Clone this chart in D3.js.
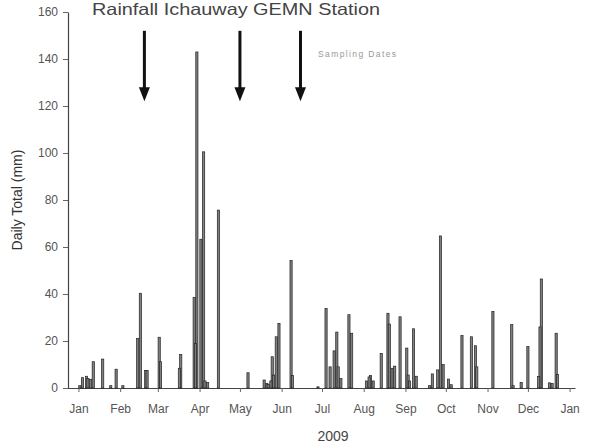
<!DOCTYPE html>
<html>
<head>
<meta charset="utf-8">
<script src="https://cdn.jsdelivr.net/npm/d3@7"></script>
<style>
  html, body { margin: 0; padding: 0; background: #fff; }
  svg { display: block; }
  text { font-family: "Liberation Sans", Arial, sans-serif; }
</style>
</head>
<body>
<svg id="chart" width="595" height="445"></svg>
<script>
// ---- data ----
const rainDates = [
  "2009-01-02","2009-01-04","2009-01-07","2009-01-08","2009-01-10","2009-01-12","2009-01-19","2009-01-25","2009-01-29",
  "2009-02-03","2009-02-14","2009-02-16","2009-02-20","2009-02-21",
  "2009-03-02","2009-03-03","2009-03-17","2009-03-18","2009-03-28","2009-03-29","2009-03-30",
  "2009-04-02","2009-04-04","2009-04-05","2009-04-07","2009-04-15",
  "2009-05-07","2009-05-19","2009-05-21","2009-05-22","2009-05-24","2009-05-25","2009-05-26","2009-05-28","2009-05-30",
  "2009-06-08","2009-06-09","2009-06-28",
  "2009-07-04","2009-07-07","2009-07-10","2009-07-12","2009-07-13","2009-07-15","2009-07-21","2009-07-23",
  "2009-08-03","2009-08-05","2009-08-06","2009-08-08","2009-08-14","2009-08-19","2009-08-20","2009-08-22","2009-08-24","2009-08-28",
  "2009-09-02","2009-09-03","2009-09-04","2009-09-07","2009-09-09","2009-09-19","2009-09-21","2009-09-25","2009-09-27","2009-09-29",
  "2009-10-03","2009-10-05","2009-10-13","2009-10-20","2009-10-23","2009-10-24",
  "2009-11-05","2009-11-19","2009-11-20","2009-11-26",
  "2009-12-01","2009-12-09","2009-12-10","2009-12-11","2009-12-17","2009-12-19","2009-12-22","2009-12-23"
];
const rainMm = [
  1,4.4,5,4,3.7,11.2,12.3,1,8,
  1,21,40.3,7.5,7.5,
  21.6,11.2,8.4,14.2,38.5,19,143,
  63.3,100.5,3,2.3,75.7,
  6.5,3.4,2,1.5,3,13.3,5.5,21.8,27.5,
  54.2,5.3,0.5,
  33.9,9,15.8,23.8,9,4,31.2,23.3,
  3,4.7,5.3,3,14.7,31.8,27.2,8.4,9.3,30.3,
  17,5.5,3,25.2,5,1,6,7.7,64.7,10,
  3.8,1.4,22.3,21.8,18,9,
  32.6,27,1,2.4,
  17.6,4.9,26,46.4,2.2,2,23.3,5.7
];
const samplingDates = ["2009-02-19","2009-05-01","2009-06-15"];
const yTicks = [0,20,40,60,80,100,120,140,160];
const titleText = "Rainfall Ichauway GEMN Station";
const yLabel = "Daily Total (mm)";
const xLabel = "2009";
const legendText = "Sampling Dates";

// ---- layout ----
const parse = d3.timeParse("%Y-%m-%d");
const svg = d3.select("#chart");

const x = d3.scaleTime()
  .domain([parse("2008-12-22"), parse("2010-01-05")])
  .range([65, 575]);
const y = d3.scaleLinear().domain([0, 160]).range([388, 12]);

const bars = rainDates.map((d, i) => ({ date: parse(d), v: rainMm[i] }))
  .sort((a, b) => b.v - a.v);

// axes
const xAxis = d3.axisBottom(x)
  .ticks(d3.timeMonth.every(1))
  .tickFormat(d3.timeFormat("%b"))
  .tickSizeInner(4).tickSizeOuter(0).tickPadding(12);
const gx = svg.append("g").attr("transform", "translate(0,388)").call(xAxis);
gx.select(".domain").attr("stroke", "#444").attr("stroke-width", 1.2);
gx.selectAll(".tick line").attr("stroke", "#666");
gx.selectAll(".tick text").attr("fill", "#555").attr("font-size", 12)
  .attr("font-family", "'Liberation Sans', Arial, sans-serif");

const yAxis = d3.axisLeft(y).tickValues(yTicks)
  .tickSizeInner(5).tickSizeOuter(0).tickPadding(5);
const gy = svg.append("g").attr("transform", "translate(68,0)").call(yAxis);
gy.select(".domain").attr("stroke", "#444").attr("stroke-width", 1.2);
gy.selectAll(".tick line").attr("stroke", "#666");
gy.selectAll(".tick text").attr("fill", "#555").attr("font-size", 12)
  .attr("font-family", "'Liberation Sans', Arial, sans-serif");

// bars
const bw = 2.2;
svg.append("g").selectAll("rect").data(bars).join("rect")
  .attr("x", d => x(d.date) - bw / 2)
  .attr("y", d => y(d.v))
  .attr("width", bw)
  .attr("height", d => y(0) - y(d.v))
  .attr("fill", "#808080")
  .attr("stroke", "#222")
  .attr("stroke-width", 0.7);

// sampling arrows
const arrowTop = 152, arrowShaftEnd = 128, arrowTip = 122;
const ag = svg.append("g");
samplingDates.forEach(s => {
  const cx = x(parse(s));
  ag.append("line")
    .attr("x1", cx).attr("x2", cx)
    .attr("y1", y(arrowTop)).attr("y2", y(arrowShaftEnd) + 2)
    .attr("stroke", "#111").attr("stroke-width", 3);
  ag.append("path")
    .attr("d", `M${cx - 5.5},${y(arrowShaftEnd)} L${cx + 5.5},${y(arrowShaftEnd)} L${cx},${y(arrowTip)} Z`)
    .attr("fill", "#111");
});

svg.append("text").attr("x", 318).attr("y", 57)
  .attr("font-size", 8.5).attr("fill", "#999")
  .attr("textLength", 78).attr("lengthAdjust", "spacing")
  .text(legendText);

// title
svg.append("text").attr("x", 92).attr("y", 15)
  .attr("font-size", 16.5).attr("fill", "#444")
  .attr("textLength", 288).attr("lengthAdjust", "spacingAndGlyphs")
  .text(titleText);

// axis labels
svg.append("text").attr("x", 333).attr("y", 441)
  .attr("text-anchor", "middle").attr("font-size", 14).attr("fill", "#444").text(xLabel);
svg.append("text")
  .attr("transform", "translate(22,200) rotate(-90)")
  .attr("text-anchor", "middle").attr("font-size", 14).attr("fill", "#333").text(yLabel);
</script>
</body>
</html>
